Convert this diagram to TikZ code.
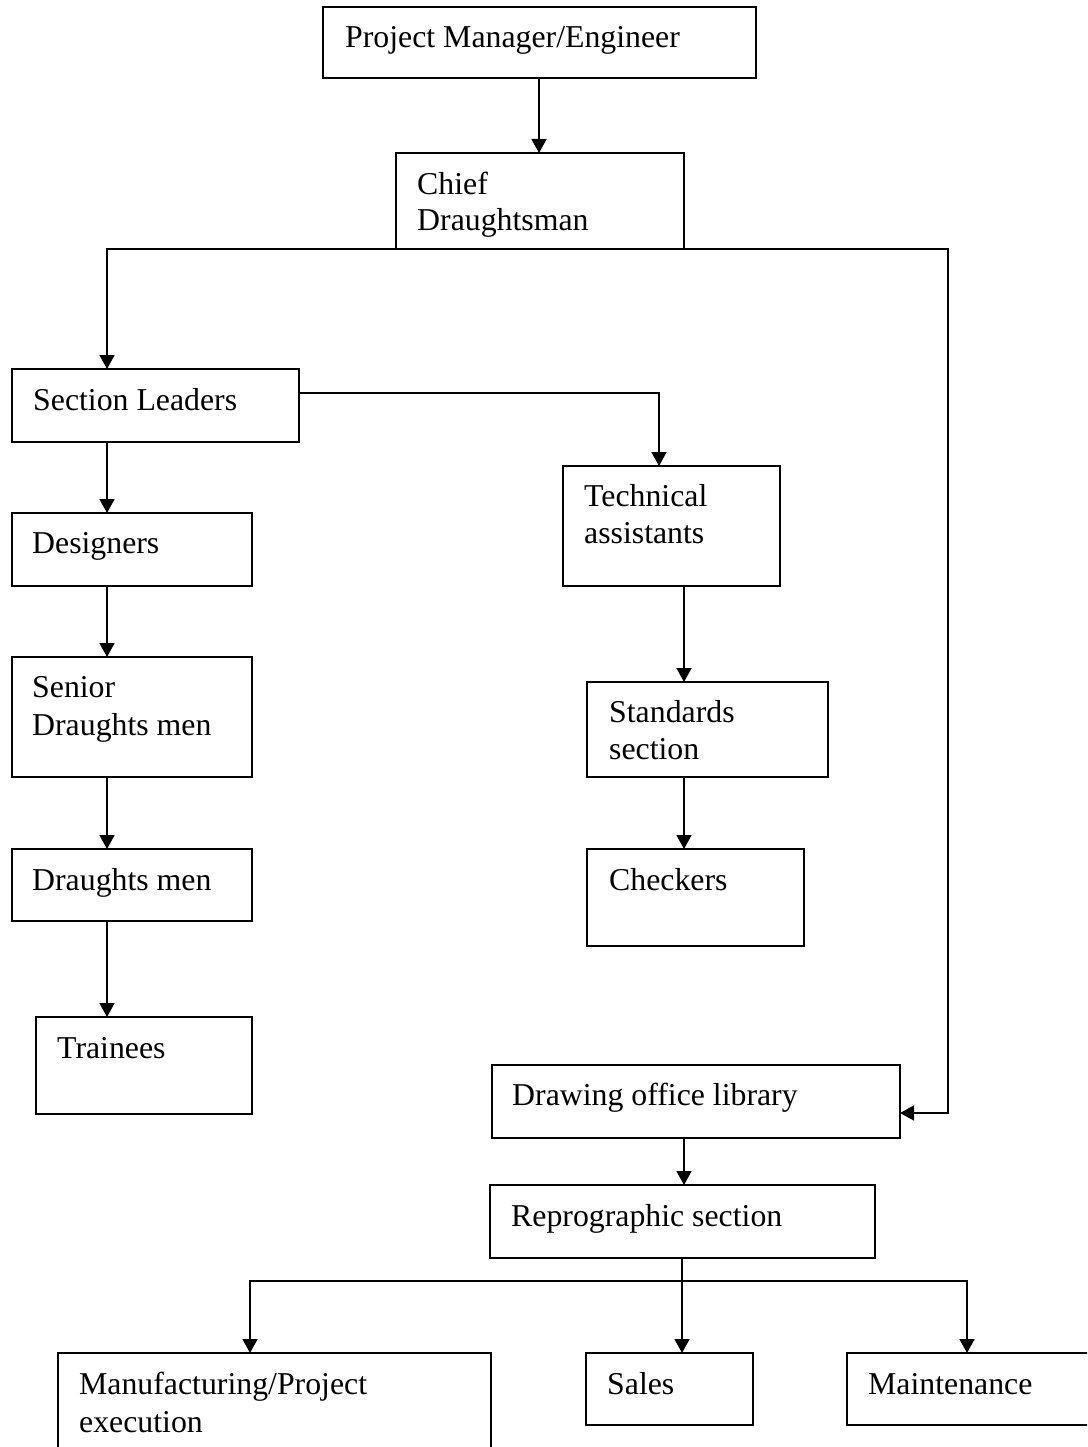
\documentclass[tikz,border=0pt]{standalone}
\usepackage{fontspec}
\setmainfont{Liberation Serif}
\usetikzlibrary{arrows.meta}
\begin{document}
\begin{tikzpicture}[x=1pt,y=-1pt,
  box/.style={draw=black,line width=1.6pt,rectangle,inner sep=0pt,outer sep=0pt,anchor=north west},
  txt/.style={inner sep=0pt,anchor=base west,font=\fontsize{31.8}{36.5}\selectfont},
  arr/.style={line width=1.6pt,-{Triangle[width=15pt,length=14pt]}},
  ln/.style={line width=1.6pt}]
\useasboundingbox (0,0) rectangle (1087,1447);
\clip (0,0) rectangle (1087,1447);
\fill[white] (0,0) rectangle (1087,1447);
% boxes
\node[box,minimum width=433pt,minimum height=71pt] (pm) at (323,7) {};
\node[box,minimum width=288pt,minimum height=96pt] (chief) at (396,153) {};
\node[box,minimum width=287pt,minimum height=73pt] (sl) at (12,369) {};
\node[box,minimum width=217pt,minimum height=120pt] (ta) at (563,466) {};
\node[box,minimum width=240pt,minimum height=73pt] (des) at (12,513) {};
\node[box,minimum width=240pt,minimum height=120pt] (sdm) at (12,657) {};
\node[box,minimum width=240pt,minimum height=72pt] (dm) at (12,849) {};
\node[box,minimum width=216pt,minimum height=97pt] (tr) at (36,1017) {};
\node[box,minimum width=241pt,minimum height=95pt] (std) at (587,682) {};
\node[box,minimum width=217pt,minimum height=97pt] (chk) at (587,849) {};
\node[box,minimum width=408pt,minimum height=73pt] (lib) at (492,1065) {};
\node[box,minimum width=385pt,minimum height=73pt] (rep) at (490,1185) {};
\node[box,minimum width=433pt,minimum height=117pt] (mfg) at (58,1353) {};
\node[box,minimum width=167pt,minimum height=72pt] (sal) at (586,1353) {};
\node[box,minimum width=253pt,minimum height=72pt] (mnt) at (847,1353) {};
% texts
\node[txt] (tpm) at (345,48) {Project Manager/Engineer};
\node[txt] (tchief1) at (417,195) {Chief};
\node[txt] (tchief2) at (417,231) {Draughtsman};
\node[txt] (tsl) at (33,410) {Section Leaders};
\node[txt] (tta1) at (584,506) {Technical};
\node[txt] (tta2) at (584,543) {assistants};
\node[txt] (tdes) at (32,553) {Designers};
\node[txt] (tsdm1) at (32,697) {Senior};
\node[txt] (tsdm2) at (32,735) {Draughts men};
\node[txt] (tdm) at (32,890) {Draughts men};
\node[txt] (ttr) at (57,1058) {Trainees};
\node[txt] (tstd1) at (609,722) {Standards};
\node[txt] (tstd2) at (609,759) {section};
\node[txt] (tchk) at (609,890) {Checkers};
\node[txt] (tlib) at (512,1105) {Drawing office library};
\node[txt] (trep) at (511,1226) {Reprographic section};
\node[txt] (tmfg1) at (79,1394) {Manufacturing/Project};
\node[txt] (tmfg2) at (79,1432) {execution};
\node[txt] (tsal) at (607,1394) {Sales};
\node[txt] (tmnt) at (868,1394) {Maintenance};
% connectors
\draw[arr] ([xshift=216pt]pm.south west) -- ([xshift=216pt]pm.south west |- chief.north);
\draw[arr] (chief.south west) -| ([xshift=95pt]sl.north west);
\draw[arr] (chief.south east) -| ([xshift=48pt,yshift=-11.5pt]lib.east) -- ([yshift=-11.5pt]lib.east);
\draw[arr] ([yshift=12.5pt]sl.east) -| ([xshift=-12.5pt]ta.north);
\draw[arr] ([xshift=95pt]sl.south west) -- ([xshift=95pt]des.north west);
\draw[arr] ([xshift=95pt]des.south west) -- ([xshift=95pt]sdm.north west);
\draw[arr] ([xshift=95pt]sdm.south west) -- ([xshift=95pt]dm.north west);
\draw[arr] ([xshift=95pt]dm.south west) -- ([xshift=71pt]tr.north west);
\draw[arr] ([xshift=121pt]ta.south west) -- ([xshift=121pt]ta.south west |- std.north);
\draw[arr] ([xshift=97pt]std.south west) -- ([xshift=97pt]chk.north west);
\draw[arr] ([xshift=192pt]lib.south west) -- ([xshift=192pt]lib.south west |- rep.north);
\draw[arr] ([xshift=192pt]rep.south west) -- ([xshift=192pt]rep.south west |- sal.north);
\draw[arr] ([xshift=192pt,yshift=-23pt]rep.south west) -| ([xshift=192pt]mfg.north west);
\draw[arr] ([xshift=192pt,yshift=-23pt]rep.south west) -| ([xshift=120pt]mnt.north west);
\end{tikzpicture}
\end{document}
